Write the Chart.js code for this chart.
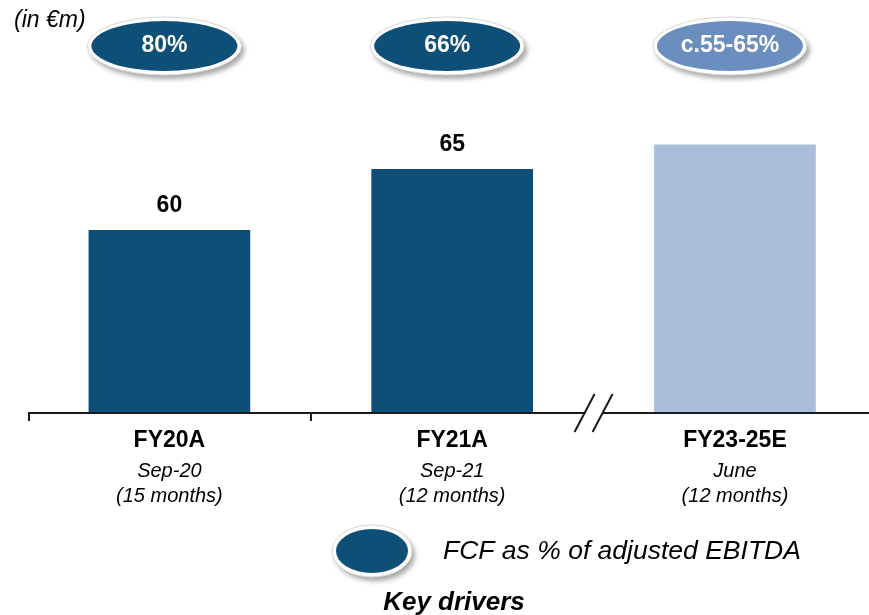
<!DOCTYPE html>
<html>
<head>
<meta charset="utf-8">
<script src="https://cdn.jsdelivr.net/npm/chart.js@4"></script>
<style>
html,body{margin:0;padding:0;background:#fff;}
canvas{display:block;}
</style>
</head>
<body>
<canvas id="c" width="869" height="615"></canvas>
<script>
const categories = ["FY20A", "FY21A", "FY23-25E"];
const periods = ["Sep-20", "Sep-21", "June"];
const durations = ["(15 months)", "(12 months)", "(12 months)"];
const fcfValues = [60, 65, 67];
const valueLabels = ["60", "65", ""];
const conversionLabels = ["80%", "66%", "c.55-65%"];
const unitLabel = "(in €m)";
const legendLabel = "FCF as % of adjusted EBITDA";
const footerLabel = "Key drivers";

const DARK = "#0E4F78";
const LIGHT_BAR = "#A8BED9";
const LIGHT_OVAL = "#6A8FBE";
const barColors = [DARK, DARK, LIGHT_BAR];
const ovalColors = [DARK, DARK, LIGHT_OVAL];
const FONT = "'Liberation Sans', Arial, sans-serif";

function oval(ctx, cx, cy, rx, ry, color) {
  ctx.save();
  ctx.shadowColor = "rgba(0,0,0,0.35)";
  ctx.shadowBlur = 5;
  ctx.shadowOffsetX = 3;
  ctx.shadowOffsetY = 4;
  ctx.fillStyle = "#ffffff";
  ctx.beginPath();
  ctx.ellipse(cx, cy, rx + 4, ry + 4, 0, 0, Math.PI * 2);
  ctx.fill();
  ctx.restore();
  ctx.save();
  ctx.strokeStyle = "#d8d8d8";
  ctx.lineWidth = 1;
  ctx.beginPath();
  ctx.ellipse(cx, cy, rx + 4, ry + 4, 0, 0, Math.PI * 2);
  ctx.stroke();
  ctx.fillStyle = color;
  ctx.beginPath();
  ctx.ellipse(cx, cy, rx, ry, 0, 0, Math.PI * 2);
  ctx.fill();
  ctx.restore();
}

const decor = {
  id: "decor",
  afterDatasetsDraw(chart) {
    const ctx = chart.ctx;
    const xs = chart.scales.x, ys = chart.scales.y;
    const area = chart.chartArea;
    const base = ys.getPixelForValue(ys.min);
    ctx.save();
    // axis line with break
    const brk = xs.getPixelForValue(1.5);
    ctx.strokeStyle = "#1a1a1a";
    ctx.lineWidth = 2;
    ctx.beginPath();
    ctx.moveTo(area.left, base); ctx.lineTo(brk - 8, base);
    ctx.moveTo(brk + 9, base); ctx.lineTo(area.right, base);
    ctx.stroke();
    // ticks
    [xs.min, 0.5].forEach(v => {
      const x = Math.round(xs.getPixelForValue(v)) + (v === xs.min ? 1 : 0);
      ctx.beginPath();
      ctx.moveTo(x, base - 1); ctx.lineTo(x, base + 8);
      ctx.stroke();
    });
    // break slashes
    [-9, 9].forEach(d => {
      ctx.beginPath();
      ctx.moveTo(brk + d + 10, base - 19);
      ctx.lineTo(brk + d - 10, base + 19);
      ctx.stroke();
    });
    // value labels
    ctx.fillStyle = "#000";
    ctx.textAlign = "center";
    ctx.textBaseline = "middle";
    const meta = chart.getDatasetMeta(0);
    meta.data.forEach((bar, i) => {
      if (valueLabels[i]) {
        ctx.font = "bold 23px " + FONT;
        ctx.fillText(valueLabels[i], bar.x, bar.y - 25);
      }
      ctx.font = "bold 23px " + FONT;
      ctx.fillText(categories[i], bar.x, base + 28);
      ctx.font = "italic 20px " + FONT;
      ctx.fillText(periods[i], bar.x, base + 58);
      ctx.fillText(durations[i], bar.x, base + 83);
      // ovals
      const cx = bar.x - 5, cy = 46;
      oval(ctx, cx, cy, 73, 25, ovalColors[i]);
      ctx.fillStyle = "#fff";
      ctx.font = "bold 23px " + FONT;
      ctx.fillText(conversionLabels[i], cx, cy);
      ctx.fillStyle = "#000";
    });
    // unit
    ctx.textAlign = "left";
    ctx.font = "italic 23px " + FONT;
    ctx.fillText(unitLabel, 14, 21);
    // legend
    oval(ctx, 372, 551, 36, 22, DARK);
    ctx.fillStyle = "#000";
    ctx.font = "italic 26.5px " + FONT;
    ctx.fillText(legendLabel, 443, 552);
    ctx.textAlign = "center";
    ctx.font = "italic bold 26px " + FONT;
    ctx.fillText(footerLabel, 454, 603);
    ctx.restore();
  }
};

new Chart(document.getElementById("c"), {
  type: "bar",
  data: {
    datasets: [{
      data: fcfValues.map((v, i) => ({ x: i, y: v })),
      backgroundColor: barColors,
      borderWidth: 0,
      barThickness: 161
    }]
  },
  options: {
    responsive: false,
    animation: false,
    layout: { padding: { left: 28, right: 0, top: 84, bottom: 202 } },
    plugins: { legend: { display: false }, tooltip: { enabled: false } },
    scales: {
      x: { type: "linear", min: -0.5, max: 2.474, offset: false, display: false },
      y: { min: 45, max: 72, display: false }
    }
  },
  plugins: [decor]
});
</script>
</body>
</html>
